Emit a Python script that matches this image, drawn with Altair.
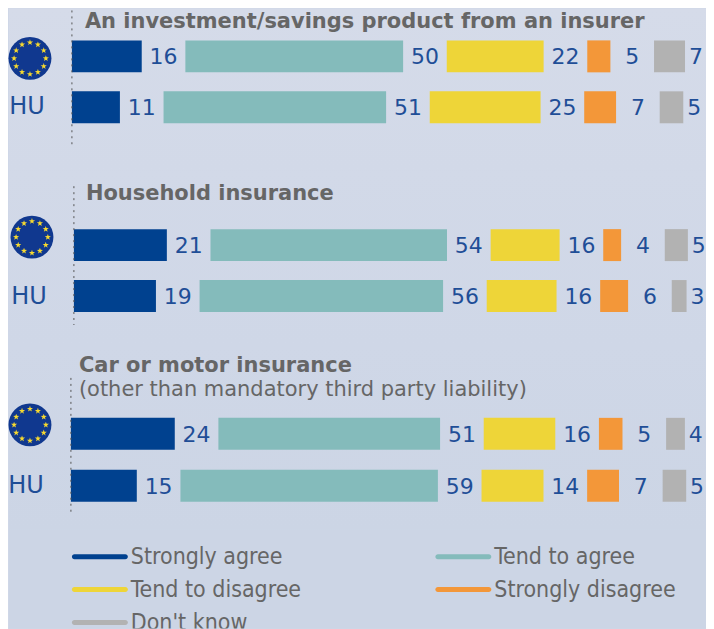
import math
import altair as alt
import pandas as pd

SERIES = ["Strongly agree", "Tend to agree", "Tend to disagree", "Strongly disagree", "Don't know"]
COLORS = ["#00418f", "#84bbbb", "#eed538", "#f39739", "#b2b2b2"]
ROWS = ["EU", "HU"]

P1_EU = [16.0, 49.9, 22.2, 5.3, 7.1]
P1_HU = [11.0, 51.0, 25.4, 7.3, 5.4]
P2_EU = [21.3, 54.2, 15.8, 4.1, 5.3]
P2_HU = [18.8, 55.8, 16.0, 6.4, 3.4]
P3_EU = [23.8, 50.8, 16.4, 5.4, 4.3]
P3_HU = [15.1, 59.0, 14.2, 7.3, 5.4]

T1 = ["An investment/savings product from an insurer"]
T2 = ["Household insurance"]
T3 = ["Car or motor insurance", "(other than mandatory third party liability)"]

W = 698
K = 4.37
GAP = 10
LAST_GAP = 2.5
FONT = "DejaVu Sans"
BLUE_TXT = "#1f4e97"
GREY_TXT = "#666666"


def flag_path():
    parts = []
    for i in range(12):
        a0 = i * math.pi / 6
        cx, cy = 0.74 * math.cos(a0), 0.74 * math.sin(a0)
        pts = []
        for j in range(10):
            r = 0.15 if j % 2 == 0 else 0.06
            a = -math.pi / 2 + j * math.pi / 5
            pts.append(f"{cx + r * math.cos(a):.3f},{cy + r * math.sin(a):.3f}")
        parts.append("M" + " L".join(pts) + " Z")
    return " ".join(parts)


def rows_frame(eu, hu):
    rec = []
    for row, vals in zip(ROWS, (eu, hu)):
        pos = 0.0
        for i, (s, v) in enumerate(zip(SERIES, vals)):
            off = LAST_GAP if i == len(SERIES) - 1 else GAP / 2
            rec.append(dict(row=row, series=s, value=v, start=pos, end=pos + v, lab=pos + v + off))
            pos += v + GAP
    return pd.DataFrame(rec)


def panel(eu, hu, titles, x0, top, h, row_y, flag, hu_pos, rule, title_x, title_y, g0, g1):
    xs = alt.Scale(domain=[-(x0 - 8) / K, (W - (x0 - 8)) / K], range=[0, W], nice=False, zero=False)
    ys = alt.Scale(type="point", domain=ROWS, range=[y - top for y in row_y], padding=0)
    cs = alt.Scale(domain=SERIES, range=COLORS)
    df = rows_frame(eu, hu)
    base = alt.Chart(df)
    bg = alt.Chart(pd.DataFrame({"a": [0]})).mark_rect(
        color=alt.Gradient(gradient="linear", x1=0, x2=0, y1=0, y2=1,
                           stops=[alt.GradientStop(color=g0, offset=0), alt.GradientStop(color=g1, offset=1)])
    ).encode(x=alt.value(0), x2=alt.value(W), y=alt.value(0), y2=alt.value(h))
    bars = base.mark_bar(height=32).encode(
        x=alt.X("start:Q", scale=xs, axis=None),
        x2="end:Q",
        y=alt.Y("row:N", scale=ys, axis=None),
        color=alt.Color("series:N", scale=cs, legend=None),
    )
    nums = base.mark_text(font=FONT, fontSize=22, color=BLUE_TXT, dy=1).encode(
        x=alt.X("lab:Q", scale=xs, axis=None),
        y=alt.Y("row:N", scale=ys, axis=None),
        text=alt.Text("value:Q", format=".0f"),
    )
    one = alt.Chart(pd.DataFrame({"a": [0]}))
    dots = one.mark_rule(color="#555555", strokeWidth=1, strokeDash=[2, 4]).encode(
        x=alt.X(datum=0, type="quantitative", scale=xs, axis=None),
        y=alt.value(rule[0] - top), y2=alt.value(rule[1] - top),
    )
    disc = one.mark_point(shape="circle", filled=True, opacity=1, size=43 ** 2, color="#10388f").encode(
        x=alt.value(flag[0] - 8), y=alt.value(flag[1] - top))
    stars = one.mark_point(shape=flag_path(), filled=True, opacity=1, size=43 ** 2, color="#f7d92f").encode(
        x=alt.value(flag[0] - 8), y=alt.value(flag[1] - top))
    hu_txt = one.mark_text(text="HU", font=FONT, fontSize=24, color=BLUE_TXT).encode(
        x=alt.value(hu_pos[0] - 8), y=alt.value(hu_pos[1] - top))
    layers = [bg, bars, nums, dots, disc, stars, hu_txt]
    for i, t in enumerate(titles):
        layers.append(one.mark_text(text=t, font=FONT, fontSize=21, align="left", color=GREY_TXT,
                                    fontWeight="bold" if i == 0 else "normal").encode(
            x=alt.value(title_x - 8), y=alt.value(title_y[i] - top)))
    return alt.layer(*layers).properties(width=W, height=h)


p1 = panel(P1_EU, P1_HU, T1, 71, 8, 162, [56, 107], (29, 58), (26, 107), (10, 147), 84, [22], "#d5dbe9", "#d2d9e8")
p2 = panel(P2_EU, P2_HU, T2, 73, 170, 175, [245, 296], (31, 237), (28, 297), (186, 325), 85, [194], "#d2d9e8", "#cfd7e7")
p3 = panel(P3_EU, P3_HU, T3, 70, 345, 185, [434, 486], (29, 425), (25, 486), (378, 515), 78, [366, 390], "#cfd7e7", "#ccd5e5")

LEG_COL = [0, 1, 0, 1, 0]
LEG_ROW = [0, 0, 1, 1, 2]
ldf = pd.DataFrame({"series": SERIES, "col": LEG_COL, "lrow": LEG_ROW})
lx = alt.Scale(type="point", domain=[0, 1], range=[63, 427], padding=0)
ly = alt.Scale(type="point", domain=[0, 1, 2], range=[27, 93], padding=0)
lbg = alt.Chart(pd.DataFrame({"a": [0]})).mark_rect(color="#ccd5e5").encode(
    x=alt.value(0), x2=alt.value(W), y=alt.value(0), y2=alt.value(99))
lmark = alt.Chart(ldf).mark_rect(width=56, height=5, cornerRadius=2.5, xOffset=28).encode(
    x=alt.X("col:O", scale=lx, axis=None),
    y=alt.Y("lrow:O", scale=ly, axis=None),
    color=alt.Color("series:N", scale=alt.Scale(domain=SERIES, range=COLORS), legend=None),
)
ltext = alt.Chart(ldf).mark_text(font="DejaVu Sans Condensed", fontSize=23, align="left", dx=59, color=GREY_TXT, clip=True).encode(
    x=alt.X("col:O", scale=lx, axis=None),
    y=alt.Y("lrow:O", scale=ly, axis=None),
    text="series:N",
)
leg = alt.layer(lbg, lmark, ltext).properties(width=W, height=99)

chart = alt.vconcat(p1, p2, p3, leg, spacing=0).properties(padding=0, background="#cfd7e7").configure_view(stroke=None)
chart.save("out.html", embed_options={"renderer": "svg", "actions": False})
